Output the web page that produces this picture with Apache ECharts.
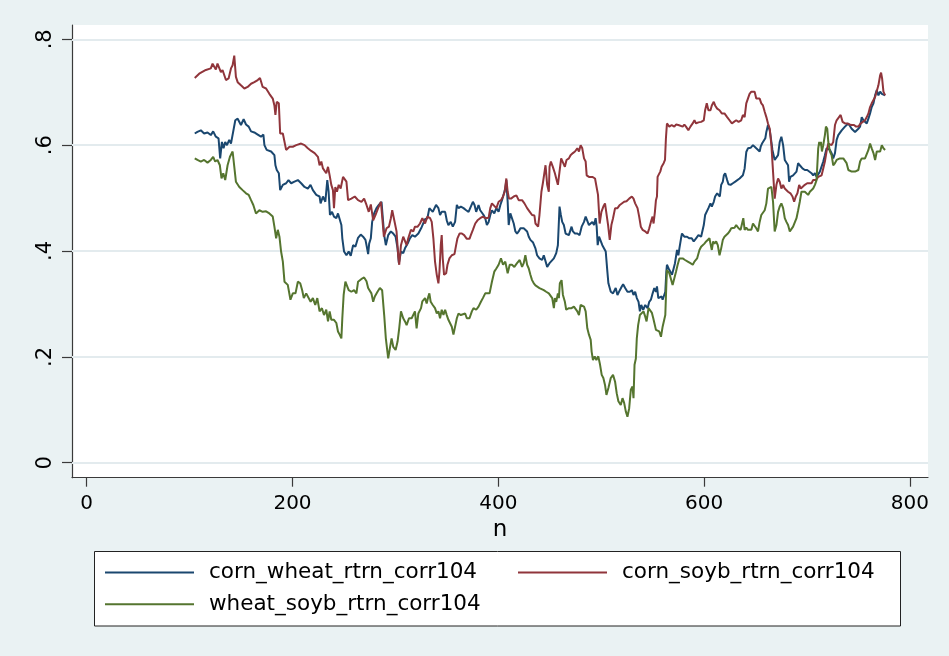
<!DOCTYPE html>
<html>
<head>
<meta charset="utf-8">
<script src="https://cdn.jsdelivr.net/npm/echarts@6/dist/echarts.min.js"></script>
<style>
  html, body { margin: 0; padding: 0; background: #eaf2f3; }
  #chart { width: 949px; height: 656px; }
</style>
</head>
<body>
<div id="chart"></div>
<script>
// Rolling 104-period return correlations, indexed by observation n.
const seriesNames = ['corn_wheat_rtrn_corr104', 'corn_soyb_rtrn_corr104', 'wheat_soyb_rtrn_corr104'];
const xTicks = [0, 200, 400, 600, 800];
const yTicks = [0, 0.2, 0.4, 0.6, 0.8];

const cornWheat = [[105,0.622],[107.6,0.625],[110.9,0.628],[114.1,0.622],[117.4,0.624],[120.6,0.619],[122.9,0.626],[125.5,0.616],[128.1,0.613],[129.7,0.575],[131.4,0.606],[133,0.594],[134.6,0.606],[136.3,0.6],[138.5,0.61],[140.2,0.603],[141.8,0.606],[144.4,0.647],[146.7,0.65],[149.9,0.638],[152.5,0.649],[154.8,0.639],[157.4,0.635],[159.7,0.626],[162.9,0.624],[166.2,0.62],[169.4,0.616],[171.7,0.62],[172.7,0.6],[174.9,0.591],[179.2,0.588],[182.4,0.581],[183.4,0.562],[184.7,0.553],[186.7,0.547],[188,0.515],[190.6,0.525],[193.8,0.528],[196.1,0.534],[198.7,0.528],[201.9,0.531],[205.2,0.534],[208.4,0.528],[211.7,0.521],[214.9,0.518],[217.5,0.525],[219.8,0.515],[223.1,0.506],[226.3,0.503],[227.3,0.49],[229.6,0.503],[231.9,0.493],[233.8,0.534],[235.1,0.512],[236.4,0.468],[238.4,0.474],[240.3,0.465],[242.6,0.462],[244.2,0.471],[245.8,0.468],[247.5,0.449],[248.4,0.424],[250.1,0.399],[252.4,0.392],[254.6,0.399],[256.6,0.391],[258.9,0.411],[261.1,0.408],[263.7,0.425],[266.3,0.431],[268.6,0.427],[270.9,0.421],[271.9,0.411],[273.5,0.394],[274.5,0.414],[276.1,0.424],[277.4,0.455],[279.3,0.471],[281.6,0.481],[283.9,0.487],[286.5,0.493],[287.8,0.496],[289.1,0.43],[290.7,0.411],[293,0.43],[295.6,0.437],[297.9,0.433],[300.2,0.427],[302.1,0.405],[303.4,0.377],[305.4,0.399],[307.6,0.396],[309.3,0.405],[311.9,0.414],[314.1,0.424],[316.4,0.43],[319,0.427],[322.3,0.433],[325.5,0.445],[328.8,0.46],[331.1,0.462],[333,0.481],[334.3,0.484],[336.3,0.474],[337.6,0.471],[339.5,0.487],[341.8,0.481],[343.4,0.468],[345,0.474],[346.7,0.471],[348.3,0.474],[349.9,0.458],[351.5,0.449],[353.8,0.455],[355.8,0.446],[358,0.455],[359.7,0.487],[361.3,0.481],[363.6,0.484],[366.2,0.481],[368.8,0.477],[371.1,0.474],[373.3,0.484],[375.3,0.493],[376.9,0.487],[378.5,0.474],[380.8,0.487],[382.4,0.477],[384.1,0.474],[385.7,0.468],[387.3,0.462],[388.9,0.449],[390.6,0.455],[392.2,0.468],[393.8,0.477],[396.1,0.471],[398.1,0.481],[400.3,0.474],[402,0.487],[403.6,0.496],[405.2,0.499],[406.8,0.518],[407.8,0.534],[409.1,0.493],[410.1,0.449],[411.7,0.471],[413.3,0.468],[415,0.452],[416.6,0.437],[418.2,0.433],[419.8,0.437],[421.5,0.443],[423.1,0.446],[424.7,0.443],[426.3,0.444],[428,0.437],[429.6,0.427],[431.2,0.421],[433.8,0.416],[436.1,0.405],[437.7,0.392],[440,0.386],[442.6,0.383],[444.2,0.392],[445.9,0.394],[447.5,0.37],[449.8,0.377],[451.7,0.374],[454,0.386],[456.3,0.396],[457.9,0.411],[459.5,0.484],[460.8,0.468],[462.1,0.455],[463.7,0.449],[465.4,0.433],[467,0.43],[468.6,0.43],[471.2,0.446],[472.5,0.437],[474.5,0.433],[476.8,0.433],[479,0.43],[481,0.446],[483.3,0.455],[484.9,0.465],[486.5,0.462],[488.1,0.449],[489.8,0.446],[491.4,0.455],[493,0.449],[494.6,0.462],[495.6,0.446],[496.6,0.411],[497.9,0.427],[499.5,0.424],[501.1,0.411],[502.8,0.408],[504.4,0.399],[506,0.361],[507,0.339],[509.3,0.323],[511.5,0.32],[514.1,0.33],[515.8,0.317],[518.1,0.326],[520,0.333],[521.3,0.337],[523.3,0.33],[525.5,0.323],[527.8,0.323],[529.8,0.326],[531.4,0.317],[533,0.323],[534.6,0.311],[536.3,0.304],[537.6,0.286],[538.9,0.298],[540.8,0.289],[542.8,0.298],[545.1,0.292],[546.7,0.304],[548.3,0.308],[550,0.32],[551.6,0.33],[553.2,0.323],[554.2,0.333],[555.5,0.311],[557.4,0.311],[558.7,0.314],[559.7,0.308],[561.3,0.308],[562.3,0.323],[563.3,0.361],[563.9,0.374],[565.5,0.367],[567.2,0.368],[568.8,0.355],[570.4,0.367],[571.7,0.377],[573.7,0.402],[575,0.392],[576,0.405],[577.6,0.424],[578.5,0.433],[580.8,0.427],[583.4,0.427],[585.7,0.424],[588,0.424],[589.9,0.418],[592.2,0.424],[594.5,0.43],[597.1,0.427],[598.7,0.424],[599.7,0.449],[601,0.468],[602.6,0.471],[604.2,0.481],[606.2,0.49],[607.5,0.484],[609.4,0.493],[610.7,0.503],[612.7,0.509],[614,0.512],[615.3,0.503],[616.6,0.525],[618.2,0.531],[619.2,0.543],[620.5,0.547],[622.4,0.534],[623.7,0.526],[625.7,0.525],[628,0.528],[630.3,0.531],[632.2,0.534],[634.5,0.537],[636.1,0.534],[637.7,0.543],[639.4,0.556],[641,0.587],[642.6,0.594],[645.2,0.595],[647.5,0.6],[649.1,0.603],[650.7,0.594],[652.4,0.591],[654,0.588],[655,0.597],[656.3,0.603],[658.2,0.6],[659.5,0.613],[660.5,0.625],[662.1,0.638],[663.8,0.628],[665.4,0.606],[666.4,0.591],[668.6,0.572],[670.3,0.575],[671.9,0.581],[673.5,0.606],[675.1,0.616],[676.8,0.6],[678.4,0.572],[680,0.572],[681.6,0.562],[682.6,0.531],[683.9,0.54],[684.9,0.537],[686.5,0.543],[688.1,0.54],[689.8,0.55],[691.4,0.566],[693,0.562],[695.6,0.556],[697.9,0.553],[700.2,0.553],[702.1,0.55],[704.4,0.547],[706,0.543],[707.7,0.547],[709.3,0.54],[710.9,0.543],[712.5,0.55],[714.2,0.547],[715.8,0.569],[717.4,0.581],[719,0.594],[720.7,0.597],[722.3,0.591],[723.9,0.585],[725.5,0.575],[727.2,0.585],[728.8,0.61],[730.4,0.619],[732,0.622],[733.7,0.628],[735.3,0.631],[736.9,0.635],[738.5,0.638],[740.2,0.641],[741.8,0.638],[743.4,0.631],[745.1,0.628],[746.7,0.625],[748.3,0.628],[749.9,0.631],[751.6,0.635],[753.2,0.653],[754.8,0.647],[756.4,0.644],[758.1,0.641],[759.7,0.65],[761.3,0.66],[762.9,0.672],[764.6,0.679],[766.2,0.694],[767.8,0.704],[769.4,0.694],[771.1,0.701],[772.7,0.697],[774.3,0.695],[775.9,0.694]];

const cornSoyb = [[105,0.727],[109.3,0.735],[115.8,0.742],[120.6,0.745],[122.3,0.754],[125.5,0.743],[127.1,0.754],[130.4,0.738],[132,0.742],[135.3,0.723],[137.9,0.726],[140.2,0.745],[141.8,0.751],[143.4,0.769],[145,0.729],[146.7,0.719],[149.9,0.713],[153.2,0.707],[156.4,0.71],[159.7,0.716],[162.9,0.719],[166.2,0.723],[168.4,0.727],[171,0.71],[174.3,0.707],[177.5,0.697],[180.8,0.688],[182.4,0.675],[183.4,0.657],[184.7,0.682],[186.7,0.679],[188,0.622],[190.6,0.622],[193.8,0.591],[197.1,0.597],[200.3,0.597],[203.6,0.6],[208.4,0.603],[211.7,0.6],[214.9,0.594],[218.2,0.589],[221.5,0.585],[224.7,0.578],[226.3,0.562],[228,0.569],[229.6,0.556],[231.2,0.553],[232.8,0.547],[234.5,0.559],[236.1,0.543],[237.7,0.525],[239.3,0.515],[240.3,0.481],[241.6,0.521],[243.2,0.512],[244.9,0.525],[246.8,0.518],[249.1,0.54],[250.7,0.543],[252.4,0.531],[254,0.496],[257.2,0.499],[260.5,0.503],[263.7,0.496],[267,0.493],[269.6,0.499],[271.9,0.487],[274.1,0.474],[276.1,0.488],[278.4,0.458],[280.6,0.468],[283.2,0.481],[285.9,0.493],[287.1,0.496],[288.8,0.427],[291.4,0.443],[293.7,0.446],[295.6,0.462],[296.9,0.477],[298.9,0.458],[301.1,0.437],[302.8,0.389],[303.7,0.374],[305.4,0.411],[307.6,0.427],[310.9,0.411],[312.5,0.424],[315.1,0.44],[317.4,0.437],[319,0.446],[321.6,0.446],[323.9,0.452],[326.2,0.462],[328.8,0.452],[331.1,0.465],[333.7,0.462],[335.3,0.455],[336.9,0.424],[338.5,0.38],[340.2,0.355],[341.8,0.339],[342.8,0.361],[344.1,0.411],[345,0.43],[346,0.386],[347.3,0.355],[349.3,0.358],[350.6,0.374],[352.5,0.386],[354.8,0.392],[357.4,0.394],[359,0.411],[360.3,0.424],[362.3,0.433],[364.6,0.433],[366.8,0.43],[369.4,0.423],[372,0.423],[373.3,0.43],[375.3,0.44],[377.6,0.452],[379.8,0.458],[382.4,0.462],[385,0.465],[387.3,0.462],[390.6,0.463],[392.2,0.481],[393.8,0.49],[395.4,0.487],[398.1,0.481],[400.3,0.493],[402.6,0.496],[404.6,0.503],[406.2,0.512],[407.8,0.537],[409.1,0.512],[410.4,0.499],[412.4,0.499],[415,0.503],[417.6,0.505],[419.8,0.496],[423.1,0.496],[425.4,0.49],[428,0.481],[430.6,0.474],[432.8,0.468],[435.1,0.467],[436.1,0.452],[438.7,0.446],[440,0.468],[441.9,0.512],[443.3,0.528],[445.2,0.531],[445.9,0.562],[447.5,0.525],[449.1,0.512],[449.8,0.559],[451.1,0.569],[453,0.559],[455,0.547],[456.3,0.537],[457.9,0.525],[459.5,0.525],[461.1,0.575],[462.8,0.572],[464.7,0.559],[466.3,0.572],[468.6,0.575],[470.2,0.581],[472.5,0.585],[474.5,0.588],[476.8,0.594],[478.4,0.588],[480,0.6],[481.6,0.594],[483.3,0.575],[484.9,0.569],[485.9,0.543],[488.1,0.54],[491.4,0.54],[494,0.537],[495.6,0.534],[496.9,0.506],[498.5,0.452],[500.2,0.474],[502.1,0.484],[503.7,0.49],[505.4,0.487],[506.7,0.449],[508.3,0.421],[509.9,0.449],[511.5,0.462],[513.5,0.481],[515.8,0.481],[518.1,0.487],[520,0.484],[522.3,0.493],[524.6,0.494],[527.2,0.499],[528.8,0.499],[529.8,0.503],[531.4,0.499],[533,0.49],[535.3,0.481],[536.9,0.465],[538.5,0.446],[540.2,0.44],[542.8,0.437],[545.1,0.433],[546.7,0.443],[548.3,0.455],[549.9,0.465],[550.9,0.452],[552.2,0.474],[553.2,0.496],[554.2,0.503],[554.8,0.54],[556.4,0.54],[557.4,0.55],[558.7,0.559],[560.7,0.566],[562,0.572],[562.9,0.613],[563.9,0.641],[566.2,0.635],[568.5,0.638],[571.1,0.635],[572.7,0.639],[575,0.638],[576.9,0.641],[579.2,0.635],[580.8,0.639],[582.4,0.635],[584.7,0.628],[586.7,0.635],[588.9,0.641],[590.6,0.647],[592.2,0.641],[594.5,0.643],[597.1,0.644],[599.7,0.647],[601,0.666],[602.6,0.679],[604.2,0.666],[606.2,0.666],[607.5,0.675],[609.4,0.682],[610.7,0.675],[612.7,0.669],[615,0.666],[617.2,0.66],[619.8,0.66],[622.4,0.653],[624.7,0.647],[627,0.641],[629,0.644],[631.2,0.647],[633.5,0.644],[636.1,0.647],[637.7,0.657],[639.4,0.653],[641,0.679],[642.6,0.688],[644.2,0.697],[645.9,0.701],[647.5,0.704],[649.1,0.701],[650.7,0.688],[652.4,0.685],[654,0.688],[655.6,0.679],[657.2,0.675],[658.9,0.663],[660.5,0.653],[662.1,0.641],[663.8,0.631],[665.4,0.6],[667,0.55],[668.6,0.499],[670.3,0.525],[671.9,0.537],[673.5,0.531],[675.1,0.518],[676.8,0.525],[678.4,0.518],[680,0.515],[681.6,0.512],[683.9,0.509],[685.9,0.503],[687.5,0.493],[689.1,0.503],[690.7,0.509],[692.4,0.525],[694,0.518],[695.6,0.518],[697.9,0.525],[700.2,0.528],[702.1,0.531],[704.4,0.528],[706,0.534],[708.6,0.534],[710.9,0.54],[712.5,0.537],[714.2,0.543],[715.8,0.556],[717.4,0.569],[719,0.588],[720.7,0.603],[722.3,0.6],[723.9,0.6],[725.5,0.606],[727.2,0.638],[728.8,0.647],[730.4,0.647],[732.7,0.657],[734.6,0.644],[736.9,0.641],[739.2,0.641],[741.2,0.639],[743.4,0.638],[745.7,0.638],[747.7,0.635],[749.9,0.635],[752.2,0.641],[754.2,0.644],[756.4,0.647],[758.1,0.653],[759.7,0.66],[761.3,0.672],[762.9,0.679],[764.6,0.682],[766.2,0.691],[767.8,0.694],[769.4,0.713],[771.1,0.732],[772,0.737],[773,0.726],[774.3,0.701],[775.9,0.694]];

const wheatSoyb = [[105,0.575],[107.6,0.572],[110.9,0.569],[114.1,0.572],[117.4,0.567],[120.6,0.572],[122.9,0.578],[124.9,0.569],[127.1,0.572],[129.4,0.562],[131,0.537],[132.7,0.547],[134.6,0.534],[136.9,0.562],[139.2,0.578],[141.8,0.588],[143.4,0.591],[145,0.531],[148.3,0.521],[151.5,0.515],[154.8,0.509],[157.4,0.506],[159.7,0.496],[161.9,0.487],[164.5,0.471],[167.8,0.477],[171,0.474],[174.3,0.475],[177.5,0.471],[180.8,0.465],[182.4,0.446],[184.1,0.424],[185.7,0.44],[187.3,0.427],[188.9,0.399],[190.6,0.38],[192.2,0.342],[195.4,0.336],[198,0.308],[200.3,0.32],[202.9,0.32],[205.2,0.342],[207.5,0.339],[209.4,0.326],[211,0.311],[213.3,0.32],[215,0.317],[217.6,0.304],[219.8,0.311],[222.1,0.298],[224.1,0.311],[226.3,0.286],[228.6,0.292],[230.6,0.279],[232.8,0.289],[234.5,0.267],[236.1,0.286],[237.7,0.27],[240.3,0.27],[242.6,0.264],[244.2,0.248],[245.8,0.242],[247.5,0.235],[248.4,0.273],[249.7,0.317],[251.4,0.342],[253,0.345],[254.6,0.326],[257.2,0.323],[259.8,0.326],[262.1,0.32],[263.7,0.342],[265.4,0.339],[267.6,0.348],[269.6,0.35],[271.9,0.343],[273.5,0.33],[275.1,0.333],[276.7,0.32],[278.4,0.304],[280,0.314],[282.6,0.323],[284.9,0.33],[287.1,0.326],[289.1,0.279],[290.7,0.235],[293,0.197],[294.6,0.216],[296.3,0.235],[297.9,0.219],[300.2,0.213],[302.1,0.229],[303.7,0.254],[305.4,0.286],[307.6,0.273],[309.3,0.267],[310.9,0.26],[313.2,0.273],[315.8,0.273],[317.4,0.27],[319,0.286],[320.6,0.254],[322.3,0.282],[324.9,0.292],[326.2,0.305],[328.8,0.311],[330.4,0.301],[332,0.314],[333,0.32],[334.3,0.304],[336.3,0.298],[338.5,0.292],[340.2,0.282],[341.8,0.286],[343.4,0.273],[345,0.289],[346.7,0.279],[348.3,0.289],[349.9,0.279],[351.5,0.27],[353.2,0.273],[354.8,0.257],[356.4,0.242],[358.1,0.245],[359.7,0.273],[361.3,0.282],[363.6,0.279],[365.5,0.282],[367.8,0.282],[369.4,0.273],[372,0.273],[374.3,0.286],[375.9,0.292],[378.5,0.289],[380.8,0.295],[383.1,0.304],[385,0.311],[387.3,0.32],[388.9,0.318],[391.5,0.32],[393.8,0.342],[396.1,0.361],[398.1,0.367],[400.3,0.374],[402.6,0.386],[404.6,0.374],[406.8,0.38],[409.1,0.358],[411.1,0.374],[413.3,0.374],[415.6,0.37],[418.2,0.377],[420.8,0.383],[423.1,0.37],[424.7,0.377],[426.3,0.392],[428,0.374],[429.6,0.367],[431.2,0.355],[432.8,0.345],[434.5,0.339],[436.1,0.335],[437.7,0.335],[440,0.33],[441.9,0.331],[444.2,0.326],[446.5,0.323],[449.1,0.32],[450.7,0.323],[452.4,0.311],[454,0.292],[455,0.311],[456.3,0.304],[457.9,0.32],[458.9,0.311],[459.8,0.339],[461.5,0.345],[462.8,0.317],[464.7,0.304],[466,0.289],[468.6,0.292],[471.2,0.292],[473.5,0.295],[475.1,0.292],[476.8,0.286],[478.4,0.279],[480,0.298],[481.6,0.301],[483.3,0.295],[484.9,0.286],[486.5,0.254],[488.1,0.242],[489.8,0.232],[490.7,0.21],[492,0.194],[493.7,0.201],[495.3,0.194],[497.2,0.201],[498.9,0.185],[500.5,0.166],[502.1,0.16],[503.7,0.147],[505.1,0.128],[507,0.141],[509.3,0.16],[511.5,0.166],[513.5,0.153],[515.1,0.131],[516.7,0.116],[519,0.109],[520.7,0.122],[522.3,0.113],[523.9,0.097],[525.5,0.087],[527.2,0.103],[528.8,0.138],[530.4,0.144],[531.4,0.122],[532.4,0.185],[533.7,0.197],[534.6,0.235],[535.9,0.26],[537.6,0.279],[539.5,0.276],[541.1,0.286],[542.8,0.276],[544.1,0.267],[546,0.292],[547.6,0.292],[549.3,0.283],[550.6,0.273],[551.9,0.27],[553.2,0.251],[554.8,0.254],[556.4,0.248],[558.1,0.238],[559.7,0.257],[561.3,0.254],[562.3,0.279],[563.3,0.336],[563.9,0.364],[566.2,0.358],[567.8,0.355],[569.4,0.336],[571.1,0.333],[572.7,0.361],[574.3,0.374],[576,0.386],[577.6,0.389],[579.2,0.386],[581.5,0.383],[584.1,0.38],[586.7,0.377],[589,0.374],[590.6,0.38],[593.2,0.386],[595.5,0.402],[597.1,0.408],[598.7,0.411],[600.3,0.414],[602,0.418],[603.6,0.421],[605.2,0.424],[606.2,0.414],[607.5,0.402],[608.8,0.418],[610.1,0.414],[611.7,0.418],[613.3,0.411],[615,0.392],[616.6,0.405],[618.2,0.421],[619.8,0.427],[621.5,0.43],[623.1,0.433],[624.7,0.437],[626.4,0.443],[628,0.446],[629.6,0.444],[631.2,0.449],[633.5,0.443],[635.5,0.44],[636.8,0.437],[638.1,0.462],[639.4,0.44],[641,0.444],[642.6,0.44],[644.2,0.437],[645.9,0.44],[647.5,0.452],[649.1,0.455],[650.7,0.443],[652.4,0.437],[654,0.455],[655.6,0.468],[657.2,0.465],[658.9,0.477],[660.5,0.49],[662.1,0.518],[663.8,0.521],[665.4,0.521],[667,0.493],[668.6,0.437],[670.3,0.449],[671.9,0.474],[673.5,0.484],[675.1,0.49],[676.8,0.481],[678.4,0.462],[680,0.455],[681.6,0.449],[683.3,0.437],[684.9,0.44],[686.5,0.446],[688.1,0.449],[689.8,0.462],[691.4,0.477],[693,0.493],[694.6,0.512],[696.3,0.515],[697.9,0.512],[699.5,0.509],[701.1,0.506],[702.8,0.512],[704.4,0.515],[706,0.518],[707.7,0.525],[709.3,0.534],[710.9,0.594],[711.9,0.606],[712.5,0.6],[713.5,0.606],[714.5,0.588],[715.8,0.6],[717.4,0.619],[718.4,0.635],[719.7,0.631],[720.7,0.606],[722.3,0.588],[723.9,0.581],[725.5,0.562],[727.2,0.566],[728.8,0.572],[730.4,0.569],[732,0.575],[733.7,0.572],[735.3,0.575],[736.9,0.572],[738.5,0.566],[740.2,0.553],[741.8,0.553],[743.4,0.55],[745.1,0.547],[746.7,0.55],[748.3,0.547],[749.9,0.553],[751.6,0.569],[753.2,0.575],[754.8,0.572],[756.4,0.575],[758.1,0.578],[759.7,0.591],[761.3,0.603],[762.9,0.594],[764.6,0.585],[766.2,0.572],[767.8,0.588],[769.4,0.591],[771.1,0.588],[772.7,0.6],[774.3,0.594],[775.9,0.591]];

const seriesData = [cornWheat, cornSoyb, wheatSoyb];
const colors = ['#1a476f', '#90353b', '#55752f'];
const font = 'DejaVu Sans';

const chart = echarts.init(document.getElementById('chart'), null, { renderer: 'canvas' });

// y labels in the ".2" style, without a leading zero
const fmtY = v => (Math.abs(v) < 1e-9 ? '0' : String(+v.toFixed(1)).replace(/^0/, ''));

const axisColor = '#3a3a3a';

const series = seriesNames.map((name, i) => ({
  name,
  type: 'line',
  data: seriesData[i],
  showSymbol: false,
  symbol: 'none',
  smooth: false,
  lineStyle: { color: colors[i], width: 2 },
  itemStyle: { color: colors[i] },
  emphasis: { disabled: true },
  z: 3
}));

// horizontal grid lines at the labelled y ticks
series[0].markLine = {
  silent: true,
  z: 1,
  symbol: ['none', 'none'],
  label: { show: false },
  emphasis: { disabled: true },
  lineStyle: { color: '#e3ebee', width: 2, type: 'solid' },
  data: yTicks.map(v => ({ yAxis: v }))
};

const legendLeft = [105, 518, 105];
const legendTop = [561.5, 561.5, 593.2];

chart.setOption({
  backgroundColor: '#eaf2f3',
  animation: false,
  grid: {
    left: 72, top: 25, width: 856, height: 452.7,
    show: true, backgroundColor: '#ffffff', borderWidth: 0
  },
  xAxis: {
    type: 'value',
    min: -14.3, max: 817.6,
    name: 'n', nameLocation: 'middle', nameGap: 36,
    nameTextStyle: { fontFamily: font, fontSize: 23, color: '#000' },
    axisLine: { show: true, onZero: false, lineStyle: { color: axisColor, width: 1.2 } },
    axisTick: { show: true, length: 9, customValues: xTicks, lineStyle: { color: axisColor, width: 1.2 } },
    axisLabel: { customValues: xTicks, margin: 16, fontFamily: font, fontSize: 20, color: '#000' },
    splitLine: { show: false }
  },
  yAxis: {
    type: 'value',
    min: -0.0283, max: 0.827,
    axisLine: { show: true, onZero: false, lineStyle: { color: axisColor, width: 1.2 } },
    axisTick: { show: true, length: 10, customValues: yTicks, lineStyle: { color: axisColor, width: 1.2 } },
    axisLabel: { customValues: yTicks, rotate: 90, margin: 16, formatter: fmtY, fontFamily: font, fontSize: 21, color: '#000' },
    splitLine: { show: false }
  },
  legend: seriesNames.map((name, i) => ({
    data: [name],
    left: legendLeft[i], top: legendTop[i],
    orient: 'horizontal',
    icon: 'rect', itemWidth: 89, itemHeight: 2,
    padding: 0, selectedMode: false,
    textStyle: { fontFamily: font, fontSize: 21.5, color: '#000', padding: [0, 0, 0, 10] }
  })),
  graphic: [{
    type: 'rect',
    z: 0,
    shape: { x: 94.5, y: 551.5, width: 806, height: 74.5 },
    style: { fill: '#ffffff', stroke: '#222', lineWidth: 1 }
  }],
  series
});
</script>
</body>
</html>
